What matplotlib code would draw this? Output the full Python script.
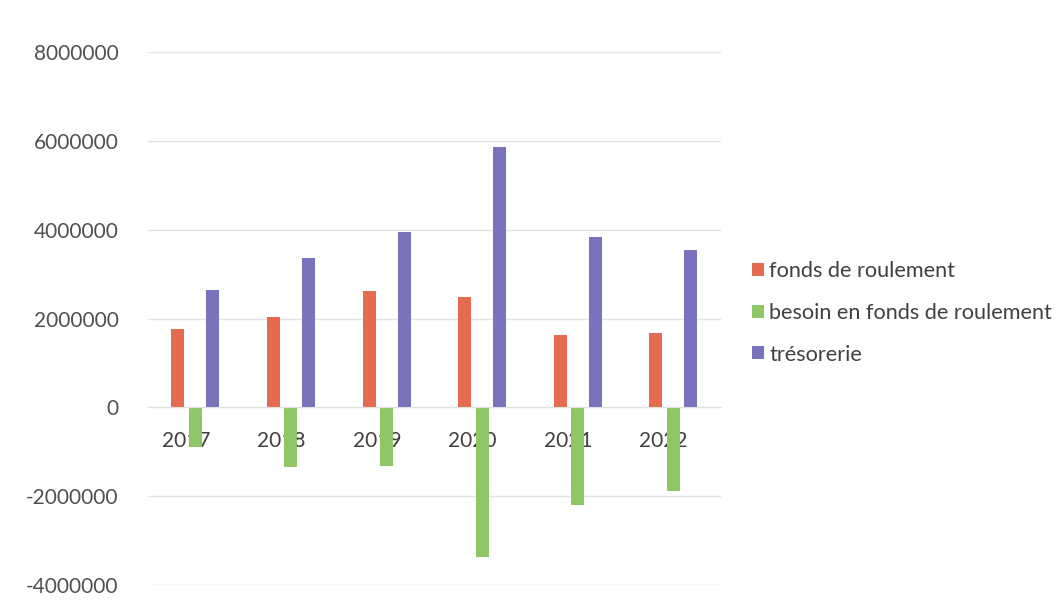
import numpy as np
import matplotlib.pyplot as plt

# Values
years = ["2017", "2018", "2019", "2020", "2021", "2022"]
fonds_roulement = [1760000, 2030000, 2610000, 2490000, 1640000, 1670000]
besoin_fonds = [-880000, -1350000, -1310000, -3370000, -2190000, -1870000]
tresorerie = [2650000, 3360000, 3940000, 5860000, 3830000, 3550000]

series_names = ["fonds de roulement", "besoin en fonds de roulement", "trésorerie"]
colors = ["#E46B4F", "#8EC866", "#7B72BD"]

plt.rcParams['font.family'] = ['Lato', 'DejaVu Sans']

fig = plt.figure(figsize=(10.62, 6.04), dpi=100)
ax = fig.add_axes([0.139, 0.031, 0.54, 0.883])

x = np.arange(len(years))
width = 0.136
offset = 0.183

ax.bar(x - offset, fonds_roulement, width, color=colors[0], label=series_names[0], zorder=2)
ax.bar(x, besoin_fonds, width, color=colors[1], label=series_names[1], zorder=2)
ax.bar(x + offset, tresorerie, width, color=colors[2], label=series_names[2], zorder=2)

ax.set_xlim(-0.5, len(years) - 0.5)
ax.set_ylim(-4000000, 8000000)
ax.set_yticks(np.arange(-4000000, 8000001, 2000000))
ax.yaxis.set_major_formatter(plt.FuncFormatter(lambda v, p: f"{int(v)}"))
ax.grid(axis='y', color='#E4E4E4', linewidth=1)
ax.set_axisbelow(True)

# category labels sit at the zero line, underneath the bars
ax.spines['bottom'].set_position(('data', 0))
ax.spines['bottom'].set_color('#E0E0E0')
for s in ['top', 'right', 'left']:
    ax.spines[s].set_visible(False)
ax.set_xticks(x - 0.1)
ax.set_xticklabels(years)
ax.tick_params(axis='x', length=0, pad=17, labelsize=15, labelcolor='#404040')
ax.tick_params(axis='y', length=0, pad=21, labelsize=15, labelcolor='#505050')

fig.legend(loc='center left', bbox_to_anchor=(0.708, 0.482), frameon=False,
           fontsize=15.6, labelcolor='#404040', handlelength=0.55, handleheight=0.55,
           handletextpad=0.25, labelspacing=1.0, borderpad=0, borderaxespad=0)

fig.savefig("out.png", dpi=100, facecolor='white')
